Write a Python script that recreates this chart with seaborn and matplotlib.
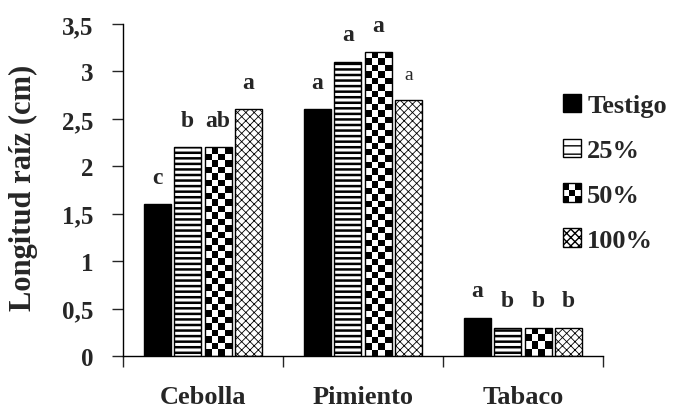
import numpy as np
import pandas as pd
import seaborn as sns
import matplotlib.pyplot as plt
from matplotlib.patches import Patch, Rectangle
from matplotlib.legend_handler import HandlerBase

# datos
cultivos = ['Cebolla', 'Pimiento', 'Tabaco']
tratamientos = ['Testigo', '25%', '50%', '100%']
testigo = [1.6, 2.6, 0.4]
dosis_25 = [2.2, 3.1, 0.3]
dosis_50 = [2.2, 3.2, 0.3]
dosis_100 = [2.6, 2.7, 0.3]
letras = {
    'Testigo': ['c', 'a', 'a'],
    '25%': ['b', 'a', 'b'],
    '50%': ['ab', 'a', 'b'],
    '100%': ['a', 'a', 'b'],
}
yticks = [0, 0.5, 1, 1.5, 2, 2.5, 3, 3.5]
ytick_labels = ['0', '0,5', '1', '1,5', '2', '2,5', '3', '3,5']

df = pd.DataFrame({
    'cultivo': cultivos * 4,
    'tratamiento': np.repeat(tratamientos, 3),
    'valor': testigo + dosis_25 + dosis_50 + dosis_100,
})

sns.set_style('white')
plt.rcParams['font.family'] = ['Liberation Serif', 'DejaVu Serif']
plt.rcParams['font.weight'] = 'bold'

fig = plt.figure(figsize=(6.92, 4.14), dpi=100)
ax = fig.add_axes([0.1777, 0.1377, 0.6936, 0.802])

sns.barplot(data=df, x='cultivo', y='valor', hue='tratamiento',
            hue_order=tratamientos, order=cultivos,
            palette=['black', 'white', 'white', 'white'],
            edgecolor='black', linewidth=1, width=0.76, gap=0.12,
            legend=False, ax=ax)

# tramas
for bar in ax.containers[1]:
    bar.set_hatch('---')
    if hasattr(bar, 'set_hatch_linewidth'):
        bar.set_hatch_linewidth(1.8)
for bar in ax.containers[3]:
    bar.set_hatch('xxxx')
    if hasattr(bar, 'set_hatch_linewidth'):
        bar.set_hatch_linewidth(0.6)

# damero para 50%
for bar in ax.containers[2]:
    x0, w, h = bar.get_x(), bar.get_width(), bar.get_height()
    ny = max(2, int(round(h / 0.068)))
    checker = (np.indices((ny, 4)).sum(axis=0) % 2).astype(float)
    im = ax.imshow(checker, cmap='gray_r', extent=(x0, x0 + w, 0, h),
                   aspect='auto', interpolation='nearest', zorder=bar.get_zorder() + 0.1)
    im.set_clip_path(bar)
    bar.set_facecolor('none')
    bar.set_zorder(bar.get_zorder() + 0.2)

ax.set_xlim(-0.5, 2.5)
ax.set_ylim(0, 3.5)

# letras de significancia
for cont, trat in zip(ax.containers, tratamientos):
    txts = ax.bar_label(cont, labels=letras[trat], padding=12,
                        fontsize=17, fontweight='bold')
    if trat == '100%':
        # la letra de Pimiento 100% es mas pequena
        txts[1].set_fontsize(14)
        txts[1].set_fontweight('normal')

ax.set_yticks(yticks)
ax.set_yticklabels(ytick_labels)
ax.set_xticks([0, 1, 2])
ax.set_xticklabels(cultivos)
ax.set_xticks([-0.5, 0.5, 1.5, 2.5], minor=True)
ax.tick_params(axis='x', which='major', length=0, pad=21, labelsize=19)
ax.tick_params(axis='x', which='minor', length=8, width=1, direction='out', bottom=True)
ax.tick_params(axis='y', length=8, width=1, direction='out', left=True, pad=13, labelsize=18)
for lbl in ax.get_xticklabels() + ax.get_yticklabels():
    lbl.set_fontweight('bold')

ax.set_xlabel('')
ax.set_ylabel('Longitud raíz (cm)', fontsize=22, fontweight='bold')
ax.yaxis.set_label_coords(-0.178, 0.51)

for s in ['top', 'right']:
    ax.spines[s].set_visible(False)
for s in ['left', 'bottom']:
    ax.spines[s].set_color('black')
    ax.spines[s].set_linewidth(1)


class HandlerDamero(HandlerBase):
    def create_artists(self, legend, orig_handle, xdescent, ydescent,
                       width, height, fontsize, trans):
        arts = [Rectangle((-xdescent, -ydescent), width, height,
                          facecolor='white', edgecolor='black', lw=1, transform=trans)]
        n = 3
        for i in range(n):
            for j in range(n):
                if (i + j) % 2 == 0:
                    arts.append(Rectangle((-xdescent + i * width / n, -ydescent + j * height / n),
                                          width / n, height / n, facecolor='black',
                                          edgecolor='none', transform=trans))
        return arts


h_test = Patch(facecolor='black', edgecolor='black')
h_25 = Patch(facecolor='white', edgecolor='black', hatch='--')
h_50 = Patch(facecolor='white', edgecolor='black')
h_100 = Patch(facecolor='white', edgecolor='black', hatch='xxxx')
fig.legend([h_test, h_25, h_50, h_100], tratamientos,
           handler_map={h_50: HandlerDamero()},
           loc='upper left', bbox_to_anchor=(552 / 692, 1 - 84 / 414),
           frameon=False, prop={'size': 19, 'weight': 'bold'},
           handlelength=0.68, handleheight=0.68, handletextpad=0.25,
           labelspacing=0.82, borderaxespad=0)

fig.savefig('out.png', dpi=100)
